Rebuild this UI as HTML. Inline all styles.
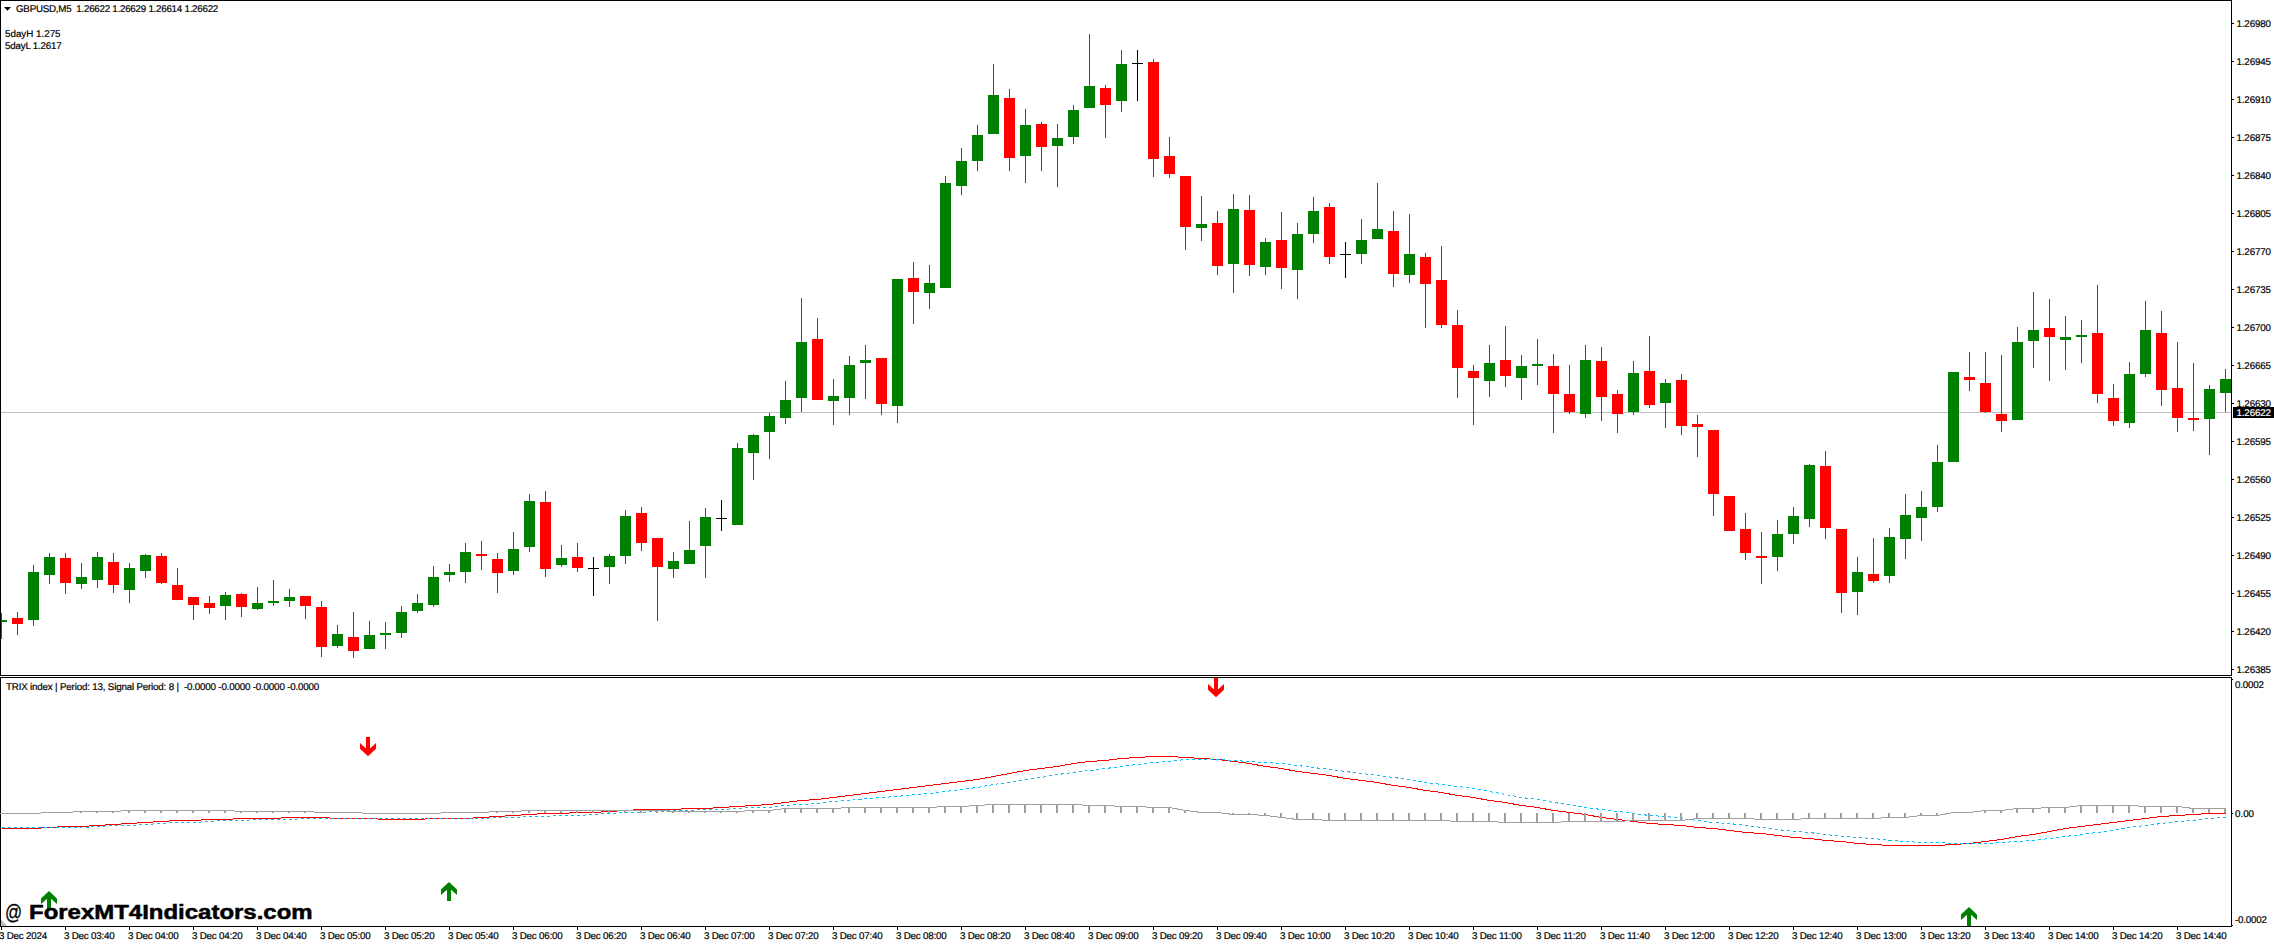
<!DOCTYPE html>
<html><head><meta charset="utf-8"><title>GBPUSD,M5</title>
<style>
html,body{margin:0;padding:0;background:#fff;}
body{width:2274px;height:944px;overflow:hidden;position:relative;font-family:"Liberation Sans",sans-serif;color:#000;}
svg{position:absolute;left:0;top:0;}
.t{position:absolute;white-space:pre;font-size:9.8px;line-height:11px;height:11px;text-rendering:geometricPrecision;-webkit-text-stroke-width:0.2px;}
.pl{left:2236px;}
.tl{top:930px;}
.wm{position:absolute;top:899.5px;font-size:20px;line-height:24px;white-space:pre;font-weight:bold;transform-origin:0 0;}
.wb{transform:scaleX(1.198);-webkit-text-stroke:0.5px #000;}
</style></head><body>

<svg width="2274" height="944" viewBox="0 0 2274 944" shape-rendering="crispEdges">
<g id="bidline">
<rect x="1" y="412" width="2230" height="1" fill="#c0c0c0"/>
</g>
<g id="candles">
<rect x="1" y="613" width="1" height="26" fill="#008000"/>
<rect x="1" y="620" width="6" height="2" fill="#008000"/>
<rect x="17" y="612" width="1" height="23" fill="#ff0000"/>
<rect x="12" y="618" width="11" height="6" fill="#ff0000"/>
<rect x="33" y="565" width="1" height="61" fill="#008000"/>
<rect x="28" y="572" width="11" height="48" fill="#008000"/>
<rect x="49" y="553" width="1" height="31" fill="#008000"/>
<rect x="44" y="557" width="11" height="18" fill="#008000"/>
<rect x="65" y="553" width="1" height="41" fill="#ff0000"/>
<rect x="60" y="558" width="11" height="25" fill="#ff0000"/>
<rect x="81" y="563" width="1" height="26" fill="#008000"/>
<rect x="76" y="577" width="11" height="7" fill="#008000"/>
<rect x="97" y="552" width="1" height="36" fill="#008000"/>
<rect x="92" y="557" width="11" height="23" fill="#008000"/>
<rect x="113" y="553" width="1" height="40" fill="#ff0000"/>
<rect x="108" y="562" width="11" height="23" fill="#ff0000"/>
<rect x="129" y="563" width="1" height="40" fill="#008000"/>
<rect x="124" y="568" width="11" height="22" fill="#008000"/>
<rect x="145" y="554" width="1" height="24" fill="#008000"/>
<rect x="140" y="555" width="11" height="16" fill="#008000"/>
<rect x="161" y="553" width="1" height="31" fill="#ff0000"/>
<rect x="156" y="556" width="11" height="27" fill="#ff0000"/>
<rect x="177" y="568" width="1" height="32" fill="#ff0000"/>
<rect x="172" y="585" width="11" height="15" fill="#ff0000"/>
<rect x="193" y="597" width="1" height="23" fill="#ff0000"/>
<rect x="188" y="597" width="11" height="8" fill="#ff0000"/>
<rect x="209" y="596" width="1" height="18" fill="#ff0000"/>
<rect x="204" y="603" width="11" height="5" fill="#ff0000"/>
<rect x="225" y="592" width="1" height="28" fill="#008000"/>
<rect x="220" y="595" width="11" height="11" fill="#008000"/>
<rect x="241" y="593" width="1" height="24" fill="#ff0000"/>
<rect x="236" y="594" width="11" height="13" fill="#ff0000"/>
<rect x="257" y="587" width="1" height="23" fill="#008000"/>
<rect x="252" y="603" width="11" height="6" fill="#008000"/>
<rect x="273" y="580" width="1" height="26" fill="#008000"/>
<rect x="268" y="601" width="11" height="2" fill="#008000"/>
<rect x="289" y="589" width="1" height="18" fill="#008000"/>
<rect x="284" y="597" width="11" height="4" fill="#008000"/>
<rect x="305" y="596" width="1" height="23" fill="#ff0000"/>
<rect x="300" y="596" width="11" height="10" fill="#ff0000"/>
<rect x="321" y="601" width="1" height="56" fill="#ff0000"/>
<rect x="316" y="607" width="11" height="40" fill="#ff0000"/>
<rect x="337" y="625" width="1" height="23" fill="#008000"/>
<rect x="332" y="634" width="11" height="12" fill="#008000"/>
<rect x="353" y="612" width="1" height="46" fill="#ff0000"/>
<rect x="348" y="637" width="11" height="14" fill="#ff0000"/>
<rect x="369" y="621" width="1" height="28" fill="#008000"/>
<rect x="364" y="635" width="11" height="14" fill="#008000"/>
<rect x="385" y="622" width="1" height="27" fill="#008000"/>
<rect x="380" y="633" width="11" height="2" fill="#008000"/>
<rect x="401" y="606" width="1" height="32" fill="#008000"/>
<rect x="396" y="612" width="11" height="21" fill="#008000"/>
<rect x="417" y="594" width="1" height="19" fill="#008000"/>
<rect x="412" y="603" width="11" height="8" fill="#008000"/>
<rect x="433" y="566" width="1" height="41" fill="#008000"/>
<rect x="428" y="577" width="11" height="28" fill="#008000"/>
<rect x="449" y="564" width="1" height="18" fill="#008000"/>
<rect x="444" y="572" width="11" height="3" fill="#008000"/>
<rect x="465" y="543" width="1" height="40" fill="#008000"/>
<rect x="460" y="552" width="11" height="20" fill="#008000"/>
<rect x="481" y="541" width="1" height="29" fill="#ff0000"/>
<rect x="476" y="554" width="11" height="2" fill="#ff0000"/>
<rect x="497" y="553" width="1" height="40" fill="#ff0000"/>
<rect x="492" y="559" width="11" height="14" fill="#ff0000"/>
<rect x="513" y="532" width="1" height="43" fill="#008000"/>
<rect x="508" y="549" width="11" height="22" fill="#008000"/>
<rect x="529" y="494" width="1" height="58" fill="#008000"/>
<rect x="524" y="501" width="11" height="46" fill="#008000"/>
<rect x="545" y="491" width="1" height="86" fill="#ff0000"/>
<rect x="540" y="502" width="11" height="67" fill="#ff0000"/>
<rect x="561" y="545" width="1" height="22" fill="#008000"/>
<rect x="556" y="558" width="11" height="7" fill="#008000"/>
<rect x="577" y="543" width="1" height="29" fill="#ff0000"/>
<rect x="572" y="557" width="11" height="11" fill="#ff0000"/>
<rect x="593" y="557" width="1" height="39" fill="#000000"/>
<rect x="588" y="568" width="11" height="1" fill="#000000"/>
<rect x="609" y="554" width="1" height="30" fill="#008000"/>
<rect x="604" y="556" width="11" height="11" fill="#008000"/>
<rect x="625" y="510" width="1" height="54" fill="#008000"/>
<rect x="620" y="516" width="11" height="40" fill="#008000"/>
<rect x="641" y="507" width="1" height="44" fill="#ff0000"/>
<rect x="636" y="513" width="11" height="30" fill="#ff0000"/>
<rect x="657" y="538" width="1" height="83" fill="#ff0000"/>
<rect x="652" y="538" width="11" height="29" fill="#ff0000"/>
<rect x="673" y="552" width="1" height="26" fill="#008000"/>
<rect x="668" y="561" width="11" height="8" fill="#008000"/>
<rect x="689" y="521" width="1" height="43" fill="#008000"/>
<rect x="684" y="550" width="11" height="14" fill="#008000"/>
<rect x="705" y="508" width="1" height="70" fill="#008000"/>
<rect x="700" y="517" width="11" height="29" fill="#008000"/>
<rect x="721" y="500" width="1" height="31" fill="#000000"/>
<rect x="716" y="518" width="11" height="1" fill="#000000"/>
<rect x="737" y="443" width="1" height="82" fill="#008000"/>
<rect x="732" y="448" width="11" height="77" fill="#008000"/>
<rect x="753" y="434" width="1" height="46" fill="#008000"/>
<rect x="748" y="435" width="11" height="18" fill="#008000"/>
<rect x="769" y="413" width="1" height="46" fill="#008000"/>
<rect x="764" y="416" width="11" height="16" fill="#008000"/>
<rect x="785" y="381" width="1" height="43" fill="#008000"/>
<rect x="780" y="400" width="11" height="18" fill="#008000"/>
<rect x="801" y="298" width="1" height="114" fill="#008000"/>
<rect x="796" y="342" width="11" height="56" fill="#008000"/>
<rect x="817" y="318" width="1" height="82" fill="#ff0000"/>
<rect x="812" y="339" width="11" height="61" fill="#ff0000"/>
<rect x="833" y="379" width="1" height="46" fill="#008000"/>
<rect x="828" y="396" width="11" height="5" fill="#008000"/>
<rect x="849" y="356" width="1" height="59" fill="#008000"/>
<rect x="844" y="365" width="11" height="33" fill="#008000"/>
<rect x="865" y="345" width="1" height="54" fill="#008000"/>
<rect x="860" y="360" width="11" height="3" fill="#008000"/>
<rect x="881" y="358" width="1" height="57" fill="#ff0000"/>
<rect x="876" y="358" width="11" height="46" fill="#ff0000"/>
<rect x="897" y="279" width="1" height="144" fill="#008000"/>
<rect x="892" y="279" width="11" height="127" fill="#008000"/>
<rect x="913" y="262" width="1" height="62" fill="#ff0000"/>
<rect x="908" y="278" width="11" height="14" fill="#ff0000"/>
<rect x="929" y="265" width="1" height="44" fill="#008000"/>
<rect x="924" y="283" width="11" height="10" fill="#008000"/>
<rect x="945" y="176" width="1" height="112" fill="#008000"/>
<rect x="940" y="183" width="11" height="105" fill="#008000"/>
<rect x="961" y="148" width="1" height="47" fill="#008000"/>
<rect x="956" y="161" width="11" height="25" fill="#008000"/>
<rect x="977" y="125" width="1" height="46" fill="#008000"/>
<rect x="972" y="135" width="11" height="26" fill="#008000"/>
<rect x="993" y="64" width="1" height="70" fill="#008000"/>
<rect x="988" y="95" width="11" height="39" fill="#008000"/>
<rect x="1009" y="89" width="1" height="82" fill="#ff0000"/>
<rect x="1004" y="98" width="11" height="60" fill="#ff0000"/>
<rect x="1025" y="109" width="1" height="74" fill="#008000"/>
<rect x="1020" y="125" width="11" height="31" fill="#008000"/>
<rect x="1041" y="122" width="1" height="49" fill="#ff0000"/>
<rect x="1036" y="124" width="11" height="23" fill="#ff0000"/>
<rect x="1057" y="124" width="1" height="63" fill="#008000"/>
<rect x="1052" y="138" width="11" height="8" fill="#008000"/>
<rect x="1073" y="105" width="1" height="39" fill="#008000"/>
<rect x="1068" y="110" width="11" height="27" fill="#008000"/>
<rect x="1089" y="34" width="1" height="74" fill="#008000"/>
<rect x="1084" y="86" width="11" height="22" fill="#008000"/>
<rect x="1105" y="85" width="1" height="53" fill="#ff0000"/>
<rect x="1100" y="88" width="11" height="17" fill="#ff0000"/>
<rect x="1121" y="50" width="1" height="62" fill="#008000"/>
<rect x="1116" y="64" width="11" height="37" fill="#008000"/>
<rect x="1137" y="50" width="1" height="51" fill="#000000"/>
<rect x="1132" y="63" width="11" height="1" fill="#000000"/>
<rect x="1153" y="59" width="1" height="118" fill="#ff0000"/>
<rect x="1148" y="62" width="11" height="97" fill="#ff0000"/>
<rect x="1169" y="137" width="1" height="41" fill="#ff0000"/>
<rect x="1164" y="156" width="11" height="18" fill="#ff0000"/>
<rect x="1185" y="176" width="1" height="74" fill="#ff0000"/>
<rect x="1180" y="176" width="11" height="51" fill="#ff0000"/>
<rect x="1201" y="196" width="1" height="45" fill="#008000"/>
<rect x="1196" y="224" width="11" height="4" fill="#008000"/>
<rect x="1217" y="211" width="1" height="64" fill="#ff0000"/>
<rect x="1212" y="223" width="11" height="43" fill="#ff0000"/>
<rect x="1233" y="194" width="1" height="99" fill="#008000"/>
<rect x="1228" y="209" width="11" height="55" fill="#008000"/>
<rect x="1249" y="195" width="1" height="81" fill="#ff0000"/>
<rect x="1244" y="210" width="11" height="55" fill="#ff0000"/>
<rect x="1265" y="238" width="1" height="37" fill="#008000"/>
<rect x="1260" y="242" width="11" height="25" fill="#008000"/>
<rect x="1281" y="212" width="1" height="77" fill="#ff0000"/>
<rect x="1276" y="240" width="11" height="28" fill="#ff0000"/>
<rect x="1297" y="223" width="1" height="76" fill="#008000"/>
<rect x="1292" y="234" width="11" height="36" fill="#008000"/>
<rect x="1313" y="197" width="1" height="46" fill="#008000"/>
<rect x="1308" y="211" width="11" height="23" fill="#008000"/>
<rect x="1329" y="203" width="1" height="61" fill="#ff0000"/>
<rect x="1324" y="207" width="11" height="50" fill="#ff0000"/>
<rect x="1345" y="242" width="1" height="36" fill="#000000"/>
<rect x="1340" y="254" width="11" height="1" fill="#000000"/>
<rect x="1361" y="219" width="1" height="45" fill="#008000"/>
<rect x="1356" y="240" width="11" height="14" fill="#008000"/>
<rect x="1377" y="183" width="1" height="56" fill="#008000"/>
<rect x="1372" y="229" width="11" height="10" fill="#008000"/>
<rect x="1393" y="211" width="1" height="76" fill="#ff0000"/>
<rect x="1388" y="231" width="11" height="43" fill="#ff0000"/>
<rect x="1409" y="214" width="1" height="69" fill="#008000"/>
<rect x="1404" y="254" width="11" height="21" fill="#008000"/>
<rect x="1425" y="253" width="1" height="75" fill="#ff0000"/>
<rect x="1420" y="257" width="11" height="27" fill="#ff0000"/>
<rect x="1441" y="246" width="1" height="82" fill="#ff0000"/>
<rect x="1436" y="280" width="11" height="45" fill="#ff0000"/>
<rect x="1457" y="310" width="1" height="88" fill="#ff0000"/>
<rect x="1452" y="325" width="11" height="43" fill="#ff0000"/>
<rect x="1473" y="365" width="1" height="60" fill="#ff0000"/>
<rect x="1468" y="371" width="11" height="7" fill="#ff0000"/>
<rect x="1489" y="345" width="1" height="52" fill="#008000"/>
<rect x="1484" y="363" width="11" height="18" fill="#008000"/>
<rect x="1505" y="326" width="1" height="61" fill="#ff0000"/>
<rect x="1500" y="360" width="11" height="16" fill="#ff0000"/>
<rect x="1521" y="355" width="1" height="45" fill="#008000"/>
<rect x="1516" y="366" width="11" height="12" fill="#008000"/>
<rect x="1537" y="339" width="1" height="46" fill="#008000"/>
<rect x="1532" y="364" width="11" height="2" fill="#008000"/>
<rect x="1553" y="354" width="1" height="79" fill="#ff0000"/>
<rect x="1548" y="366" width="11" height="28" fill="#ff0000"/>
<rect x="1569" y="365" width="1" height="49" fill="#ff0000"/>
<rect x="1564" y="394" width="11" height="18" fill="#ff0000"/>
<rect x="1585" y="345" width="1" height="73" fill="#008000"/>
<rect x="1580" y="360" width="11" height="54" fill="#008000"/>
<rect x="1601" y="347" width="1" height="74" fill="#ff0000"/>
<rect x="1596" y="361" width="11" height="36" fill="#ff0000"/>
<rect x="1617" y="390" width="1" height="43" fill="#ff0000"/>
<rect x="1612" y="394" width="11" height="20" fill="#ff0000"/>
<rect x="1633" y="361" width="1" height="54" fill="#008000"/>
<rect x="1628" y="373" width="11" height="39" fill="#008000"/>
<rect x="1649" y="336" width="1" height="72" fill="#ff0000"/>
<rect x="1644" y="371" width="11" height="34" fill="#ff0000"/>
<rect x="1665" y="379" width="1" height="49" fill="#008000"/>
<rect x="1660" y="383" width="11" height="20" fill="#008000"/>
<rect x="1681" y="374" width="1" height="61" fill="#ff0000"/>
<rect x="1676" y="380" width="11" height="46" fill="#ff0000"/>
<rect x="1697" y="415" width="1" height="42" fill="#ff0000"/>
<rect x="1692" y="424" width="11" height="3" fill="#ff0000"/>
<rect x="1713" y="430" width="1" height="86" fill="#ff0000"/>
<rect x="1708" y="430" width="11" height="64" fill="#ff0000"/>
<rect x="1729" y="496" width="1" height="35" fill="#ff0000"/>
<rect x="1724" y="496" width="11" height="35" fill="#ff0000"/>
<rect x="1745" y="513" width="1" height="47" fill="#ff0000"/>
<rect x="1740" y="529" width="11" height="24" fill="#ff0000"/>
<rect x="1761" y="532" width="1" height="52" fill="#ff0000"/>
<rect x="1756" y="556" width="11" height="2" fill="#ff0000"/>
<rect x="1777" y="520" width="1" height="51" fill="#008000"/>
<rect x="1772" y="534" width="11" height="23" fill="#008000"/>
<rect x="1793" y="507" width="1" height="37" fill="#008000"/>
<rect x="1788" y="516" width="11" height="18" fill="#008000"/>
<rect x="1809" y="464" width="1" height="63" fill="#008000"/>
<rect x="1804" y="465" width="11" height="54" fill="#008000"/>
<rect x="1825" y="451" width="1" height="88" fill="#ff0000"/>
<rect x="1820" y="466" width="11" height="62" fill="#ff0000"/>
<rect x="1841" y="529" width="1" height="84" fill="#ff0000"/>
<rect x="1836" y="529" width="11" height="64" fill="#ff0000"/>
<rect x="1857" y="557" width="1" height="58" fill="#008000"/>
<rect x="1852" y="572" width="11" height="20" fill="#008000"/>
<rect x="1873" y="538" width="1" height="45" fill="#ff0000"/>
<rect x="1868" y="574" width="11" height="7" fill="#ff0000"/>
<rect x="1889" y="528" width="1" height="55" fill="#008000"/>
<rect x="1884" y="537" width="11" height="39" fill="#008000"/>
<rect x="1905" y="494" width="1" height="65" fill="#008000"/>
<rect x="1900" y="515" width="11" height="24" fill="#008000"/>
<rect x="1921" y="491" width="1" height="50" fill="#008000"/>
<rect x="1916" y="507" width="11" height="11" fill="#008000"/>
<rect x="1937" y="445" width="1" height="67" fill="#008000"/>
<rect x="1932" y="462" width="11" height="45" fill="#008000"/>
<rect x="1953" y="372" width="1" height="90" fill="#008000"/>
<rect x="1948" y="372" width="11" height="90" fill="#008000"/>
<rect x="1969" y="352" width="1" height="39" fill="#ff0000"/>
<rect x="1964" y="377" width="11" height="3" fill="#ff0000"/>
<rect x="1985" y="352" width="1" height="61" fill="#ff0000"/>
<rect x="1980" y="383" width="11" height="29" fill="#ff0000"/>
<rect x="2001" y="355" width="1" height="77" fill="#ff0000"/>
<rect x="1996" y="414" width="11" height="7" fill="#ff0000"/>
<rect x="2017" y="327" width="1" height="93" fill="#008000"/>
<rect x="2012" y="342" width="11" height="78" fill="#008000"/>
<rect x="2033" y="292" width="1" height="76" fill="#008000"/>
<rect x="2028" y="330" width="11" height="11" fill="#008000"/>
<rect x="2049" y="299" width="1" height="82" fill="#ff0000"/>
<rect x="2044" y="328" width="11" height="9" fill="#ff0000"/>
<rect x="2065" y="316" width="1" height="54" fill="#008000"/>
<rect x="2060" y="337" width="11" height="3" fill="#008000"/>
<rect x="2081" y="320" width="1" height="43" fill="#008000"/>
<rect x="2076" y="335" width="11" height="2" fill="#008000"/>
<rect x="2097" y="285" width="1" height="118" fill="#ff0000"/>
<rect x="2092" y="333" width="11" height="61" fill="#ff0000"/>
<rect x="2113" y="384" width="1" height="42" fill="#ff0000"/>
<rect x="2108" y="398" width="11" height="23" fill="#ff0000"/>
<rect x="2129" y="362" width="1" height="66" fill="#008000"/>
<rect x="2124" y="374" width="11" height="49" fill="#008000"/>
<rect x="2145" y="301" width="1" height="76" fill="#008000"/>
<rect x="2140" y="330" width="11" height="44" fill="#008000"/>
<rect x="2161" y="311" width="1" height="95" fill="#ff0000"/>
<rect x="2156" y="333" width="11" height="57" fill="#ff0000"/>
<rect x="2177" y="342" width="1" height="90" fill="#ff0000"/>
<rect x="2172" y="388" width="11" height="30" fill="#ff0000"/>
<rect x="2193" y="363" width="1" height="68" fill="#ff0000"/>
<rect x="2188" y="418" width="11" height="2" fill="#ff0000"/>
<rect x="2209" y="385" width="1" height="70" fill="#008000"/>
<rect x="2204" y="389" width="11" height="30" fill="#008000"/>
<rect x="2225" y="369" width="1" height="43" fill="#008000"/>
<rect x="2220" y="379" width="11" height="14" fill="#008000"/>
</g>
<g id="frame" fill="#000">
<rect x="0" y="0" width="2232" height="1" fill="#000"/>
<rect x="0" y="0" width="1" height="927" fill="#000"/>
<rect x="2231" y="0" width="1" height="676" fill="#000"/>
<rect x="0" y="675" width="2232" height="1" fill="#000"/>
<rect x="0" y="677" width="2232" height="1" fill="#000"/>
<rect x="2231" y="677" width="1" height="250" fill="#000"/>
<rect x="0" y="926" width="2232" height="1" fill="#000"/>
<rect x="0" y="676" width="1" height="1" fill="#fff"/>
</g>
<g id="pticks">
<rect x="2232" y="23" width="2" height="1" fill="#000"/>
<rect x="2232" y="61" width="2" height="1" fill="#000"/>
<rect x="2232" y="99" width="2" height="1" fill="#000"/>
<rect x="2232" y="137" width="2" height="1" fill="#000"/>
<rect x="2232" y="175" width="2" height="1" fill="#000"/>
<rect x="2232" y="213" width="2" height="1" fill="#000"/>
<rect x="2232" y="251" width="2" height="1" fill="#000"/>
<rect x="2232" y="289" width="2" height="1" fill="#000"/>
<rect x="2232" y="327" width="2" height="1" fill="#000"/>
<rect x="2232" y="365" width="2" height="1" fill="#000"/>
<rect x="2232" y="403" width="2" height="1" fill="#000"/>
<rect x="2232" y="441" width="2" height="1" fill="#000"/>
<rect x="2232" y="479" width="2" height="1" fill="#000"/>
<rect x="2232" y="517" width="2" height="1" fill="#000"/>
<rect x="2232" y="555" width="2" height="1" fill="#000"/>
<rect x="2232" y="593" width="2" height="1" fill="#000"/>
<rect x="2232" y="631" width="2" height="1" fill="#000"/>
<rect x="2232" y="669" width="2" height="1" fill="#000"/>
<rect x="2232" y="679" width="1" height="1" fill="#000"/>
<rect x="2232" y="813" width="1" height="1" fill="#000"/>
<rect x="2232" y="925" width="1" height="1" fill="#000"/>
</g>
<g id="tticks">
<rect x="1" y="927" width="1" height="3" fill="#000"/>
<rect x="65" y="927" width="1" height="3" fill="#000"/>
<rect x="129" y="927" width="1" height="3" fill="#000"/>
<rect x="193" y="927" width="1" height="3" fill="#000"/>
<rect x="257" y="927" width="1" height="3" fill="#000"/>
<rect x="321" y="927" width="1" height="3" fill="#000"/>
<rect x="385" y="927" width="1" height="3" fill="#000"/>
<rect x="449" y="927" width="1" height="3" fill="#000"/>
<rect x="513" y="927" width="1" height="3" fill="#000"/>
<rect x="577" y="927" width="1" height="3" fill="#000"/>
<rect x="641" y="927" width="1" height="3" fill="#000"/>
<rect x="705" y="927" width="1" height="3" fill="#000"/>
<rect x="769" y="927" width="1" height="3" fill="#000"/>
<rect x="833" y="927" width="1" height="3" fill="#000"/>
<rect x="897" y="927" width="1" height="3" fill="#000"/>
<rect x="961" y="927" width="1" height="3" fill="#000"/>
<rect x="1025" y="927" width="1" height="3" fill="#000"/>
<rect x="1089" y="927" width="1" height="3" fill="#000"/>
<rect x="1153" y="927" width="1" height="3" fill="#000"/>
<rect x="1217" y="927" width="1" height="3" fill="#000"/>
<rect x="1281" y="927" width="1" height="3" fill="#000"/>
<rect x="1345" y="927" width="1" height="3" fill="#000"/>
<rect x="1409" y="927" width="1" height="3" fill="#000"/>
<rect x="1473" y="927" width="1" height="3" fill="#000"/>
<rect x="1537" y="927" width="1" height="3" fill="#000"/>
<rect x="1601" y="927" width="1" height="3" fill="#000"/>
<rect x="1665" y="927" width="1" height="3" fill="#000"/>
<rect x="1729" y="927" width="1" height="3" fill="#000"/>
<rect x="1793" y="927" width="1" height="3" fill="#000"/>
<rect x="1857" y="927" width="1" height="3" fill="#000"/>
<rect x="1921" y="927" width="1" height="3" fill="#000"/>
<rect x="1985" y="927" width="1" height="3" fill="#000"/>
<rect x="2049" y="927" width="1" height="3" fill="#000"/>
<rect x="2113" y="927" width="1" height="3" fill="#000"/>
<rect x="2177" y="927" width="1" height="3" fill="#000"/>
</g>
<polygon points="1,920 7,926 1,926" fill="#c0c0c0"/>
<g id="ind">
<polyline points="1.5,828.5 17.5,828.5 33.5,828.5 49.5,827.5 65.5,826.5 81.5,826.5 97.5,825.5 113.5,824.5 129.5,823.5 145.5,822.5 161.5,821.5 177.5,820.5 193.5,820.5 209.5,819.5 225.5,819.5 241.5,818.5 257.5,818.5 273.5,818.5 289.5,817.5 305.5,817.5 321.5,817.5 337.5,818.5 353.5,818.5 369.5,818.5 385.5,819.5 401.5,819.5 417.5,819.5 433.5,818.5 449.5,818.5 465.5,818.5 481.5,817.5 497.5,816.5 513.5,815.5 529.5,814.5 545.5,813.5 561.5,813.5 577.5,812.5 593.5,812.5 609.5,811.5 625.5,810.5 641.5,809.5 657.5,809.5 673.5,809.5 689.5,808.5 705.5,808.5 721.5,807.5 737.5,806.5 753.5,805.5 769.5,804.5 785.5,802.5 801.5,800.5 817.5,799.5 833.5,797.5 849.5,795.5 865.5,793.5 881.5,791.5 897.5,789.5 913.5,787.5 929.5,785.5 945.5,783.5 961.5,781.5 977.5,779.5 993.5,776.5 1009.5,773.5 1025.5,770.5 1041.5,768.5 1057.5,766.5 1073.5,763.5 1089.5,761.5 1105.5,760.5 1121.5,758.5 1137.5,757.5 1153.5,756.5 1169.5,756.5 1185.5,757.5 1201.5,758.5 1217.5,759.5 1233.5,761.5 1249.5,763.5 1265.5,766.5 1281.5,768.5 1297.5,771.5 1313.5,773.5 1329.5,775.5 1345.5,778.5 1361.5,780.5 1377.5,782.5 1393.5,785.5 1409.5,787.5 1425.5,790.5 1441.5,792.5 1457.5,795.5 1473.5,797.5 1489.5,800.5 1505.5,802.5 1521.5,805.5 1537.5,807.5 1553.5,810.5 1569.5,812.5 1585.5,814.5 1601.5,817.5 1617.5,819.5 1633.5,821.5 1649.5,823.5 1665.5,824.5 1681.5,825.5 1697.5,827.5 1713.5,828.5 1729.5,830.5 1745.5,832.5 1761.5,833.5 1777.5,835.5 1793.5,837.5 1809.5,838.5 1825.5,840.5 1841.5,841.5 1857.5,843.5 1873.5,844.5 1889.5,845.5 1905.5,845.5 1921.5,845.5 1937.5,845.5 1953.5,844.5 1969.5,843.5 1985.5,841.5 2001.5,839.5 2017.5,836.5 2033.5,834.5 2049.5,831.5 2065.5,828.5 2081.5,826.5 2097.5,824.5 2113.5,822.5 2129.5,820.5 2145.5,818.5 2161.5,816.5 2177.5,815.5 2193.5,814.5 2209.5,813.5 2225.5,813.5" fill="none" stroke="#ff0000" stroke-width="1" />
<polyline points="1.5,827.5 17.5,827.5 33.5,827.5 49.5,827.5 65.5,827.5 81.5,827.5 97.5,826.5 113.5,825.5 129.5,825.5 145.5,824.5 161.5,823.5 177.5,822.5 193.5,822.5 209.5,821.5 225.5,820.5 241.5,820.5 257.5,819.5 273.5,819.5 289.5,819.5 305.5,818.5 321.5,818.5 337.5,818.5 353.5,818.5 369.5,818.5 385.5,818.5 401.5,818.5 417.5,818.5 433.5,818.5 449.5,818.5 465.5,818.5 481.5,818.5 497.5,817.5 513.5,817.5 529.5,816.5 545.5,816.5 561.5,815.5 577.5,815.5 593.5,814.5 609.5,813.5 625.5,812.5 641.5,812.5 657.5,811.5 673.5,810.5 689.5,810.5 705.5,809.5 721.5,809.5 737.5,808.5 753.5,807.5 769.5,807.5 785.5,805.5 801.5,804.5 817.5,803.5 833.5,801.5 849.5,800.5 865.5,798.5 881.5,797.5 897.5,796.5 913.5,794.5 929.5,793.5 945.5,791.5 961.5,789.5 977.5,787.5 993.5,784.5 1009.5,782.5 1025.5,779.5 1041.5,777.5 1057.5,774.5 1073.5,772.5 1089.5,770.5 1105.5,768.5 1121.5,766.5 1137.5,764.5 1153.5,762.5 1169.5,761.5 1185.5,759.5 1201.5,759.5 1217.5,759.5 1233.5,760.5 1249.5,761.5 1265.5,762.5 1281.5,763.5 1297.5,765.5 1313.5,767.5 1329.5,769.5 1345.5,771.5 1361.5,773.5 1377.5,775.5 1393.5,777.5 1409.5,779.5 1425.5,782.5 1441.5,784.5 1457.5,786.5 1473.5,788.5 1489.5,791.5 1505.5,794.5 1521.5,797.5 1537.5,799.5 1553.5,802.5 1569.5,804.5 1585.5,807.5 1601.5,809.5 1617.5,811.5 1633.5,813.5 1649.5,815.5 1665.5,816.5 1681.5,818.5 1697.5,820.5 1713.5,822.5 1729.5,823.5 1745.5,825.5 1761.5,827.5 1777.5,829.5 1793.5,831.5 1809.5,832.5 1825.5,834.5 1841.5,836.5 1857.5,837.5 1873.5,838.5 1889.5,840.5 1905.5,841.5 1921.5,842.5 1937.5,842.5 1953.5,843.5 1969.5,843.5 1985.5,843.5 2001.5,842.5 2017.5,841.5 2033.5,840.5 2049.5,838.5 2065.5,836.5 2081.5,834.5 2097.5,832.5 2113.5,830.5 2129.5,827.5 2145.5,825.5 2161.5,823.5 2177.5,821.5 2193.5,820.5 2209.5,818.5 2225.5,817.5" fill="none" stroke="#00bfff" stroke-width="1" stroke-dasharray="3 3"/>
<rect x="0" y="813" width="2" height="1" fill="#a0a0a0"/>
<rect x="16" y="813" width="2" height="1" fill="#a0a0a0"/>
<rect x="32" y="813" width="2" height="1" fill="#a0a0a0"/>
<rect x="48" y="812" width="2" height="1" fill="#a0a0a0"/>
<rect x="64" y="812" width="2" height="1" fill="#a0a0a0"/>
<rect x="80" y="811" width="2" height="2" fill="#a0a0a0"/>
<rect x="96" y="811" width="2" height="2" fill="#a0a0a0"/>
<rect x="112" y="811" width="2" height="2" fill="#a0a0a0"/>
<rect x="128" y="810" width="2" height="3" fill="#a0a0a0"/>
<rect x="144" y="810" width="2" height="3" fill="#a0a0a0"/>
<rect x="160" y="810" width="2" height="3" fill="#a0a0a0"/>
<rect x="176" y="810" width="2" height="3" fill="#a0a0a0"/>
<rect x="192" y="810" width="2" height="3" fill="#a0a0a0"/>
<rect x="208" y="810" width="2" height="3" fill="#a0a0a0"/>
<rect x="224" y="810" width="2" height="3" fill="#a0a0a0"/>
<rect x="240" y="811" width="2" height="2" fill="#a0a0a0"/>
<rect x="256" y="811" width="2" height="2" fill="#a0a0a0"/>
<rect x="272" y="811" width="2" height="2" fill="#a0a0a0"/>
<rect x="288" y="811" width="2" height="2" fill="#a0a0a0"/>
<rect x="304" y="811" width="2" height="2" fill="#a0a0a0"/>
<rect x="320" y="812" width="2" height="1" fill="#a0a0a0"/>
<rect x="336" y="812" width="2" height="1" fill="#a0a0a0"/>
<rect x="352" y="812" width="2" height="1" fill="#a0a0a0"/>
<rect x="368" y="813" width="2" height="1" fill="#a0a0a0"/>
<rect x="384" y="813" width="2" height="1" fill="#a0a0a0"/>
<rect x="400" y="813" width="2" height="1" fill="#a0a0a0"/>
<rect x="416" y="813" width="2" height="1" fill="#a0a0a0"/>
<rect x="432" y="813" width="2" height="1" fill="#a0a0a0"/>
<rect x="448" y="812" width="2" height="1" fill="#a0a0a0"/>
<rect x="464" y="812" width="2" height="1" fill="#a0a0a0"/>
<rect x="480" y="812" width="2" height="1" fill="#a0a0a0"/>
<rect x="496" y="811" width="2" height="2" fill="#a0a0a0"/>
<rect x="512" y="811" width="2" height="2" fill="#a0a0a0"/>
<rect x="528" y="810" width="2" height="3" fill="#a0a0a0"/>
<rect x="544" y="810" width="2" height="3" fill="#a0a0a0"/>
<rect x="560" y="810" width="2" height="3" fill="#a0a0a0"/>
<rect x="576" y="810" width="2" height="3" fill="#a0a0a0"/>
<rect x="592" y="810" width="2" height="3" fill="#a0a0a0"/>
<rect x="608" y="810" width="2" height="3" fill="#a0a0a0"/>
<rect x="624" y="810" width="2" height="3" fill="#a0a0a0"/>
<rect x="640" y="810" width="2" height="3" fill="#a0a0a0"/>
<rect x="656" y="810" width="2" height="3" fill="#a0a0a0"/>
<rect x="672" y="811" width="2" height="2" fill="#a0a0a0"/>
<rect x="688" y="811" width="2" height="2" fill="#a0a0a0"/>
<rect x="704" y="811" width="2" height="2" fill="#a0a0a0"/>
<rect x="720" y="811" width="2" height="2" fill="#a0a0a0"/>
<rect x="736" y="811" width="2" height="2" fill="#a0a0a0"/>
<rect x="752" y="810" width="2" height="3" fill="#a0a0a0"/>
<rect x="768" y="810" width="2" height="3" fill="#a0a0a0"/>
<rect x="784" y="808" width="2" height="5" fill="#a0a0a0"/>
<rect x="800" y="808" width="2" height="5" fill="#a0a0a0"/>
<rect x="816" y="808" width="2" height="5" fill="#a0a0a0"/>
<rect x="832" y="808" width="2" height="5" fill="#a0a0a0"/>
<rect x="848" y="807" width="2" height="6" fill="#a0a0a0"/>
<rect x="864" y="807" width="2" height="6" fill="#a0a0a0"/>
<rect x="880" y="807" width="2" height="6" fill="#a0a0a0"/>
<rect x="896" y="807" width="2" height="6" fill="#a0a0a0"/>
<rect x="912" y="807" width="2" height="6" fill="#a0a0a0"/>
<rect x="928" y="807" width="2" height="6" fill="#a0a0a0"/>
<rect x="944" y="806" width="2" height="7" fill="#a0a0a0"/>
<rect x="960" y="806" width="2" height="7" fill="#a0a0a0"/>
<rect x="976" y="805" width="2" height="8" fill="#a0a0a0"/>
<rect x="992" y="804" width="2" height="9" fill="#a0a0a0"/>
<rect x="1008" y="804" width="2" height="9" fill="#a0a0a0"/>
<rect x="1024" y="804" width="2" height="9" fill="#a0a0a0"/>
<rect x="1040" y="804" width="2" height="9" fill="#a0a0a0"/>
<rect x="1056" y="804" width="2" height="9" fill="#a0a0a0"/>
<rect x="1072" y="804" width="2" height="9" fill="#a0a0a0"/>
<rect x="1088" y="805" width="2" height="8" fill="#a0a0a0"/>
<rect x="1104" y="805" width="2" height="8" fill="#a0a0a0"/>
<rect x="1120" y="806" width="2" height="7" fill="#a0a0a0"/>
<rect x="1136" y="806" width="2" height="7" fill="#a0a0a0"/>
<rect x="1152" y="807" width="2" height="6" fill="#a0a0a0"/>
<rect x="1168" y="807" width="2" height="6" fill="#a0a0a0"/>
<rect x="1184" y="810" width="2" height="3" fill="#a0a0a0"/>
<rect x="1200" y="812" width="2" height="1" fill="#a0a0a0"/>
<rect x="1216" y="812" width="2" height="1" fill="#a0a0a0"/>
<rect x="1232" y="813" width="2" height="2" fill="#a0a0a0"/>
<rect x="1248" y="813" width="2" height="2" fill="#a0a0a0"/>
<rect x="1264" y="813" width="2" height="3" fill="#a0a0a0"/>
<rect x="1280" y="813" width="2" height="5" fill="#a0a0a0"/>
<rect x="1296" y="813" width="2" height="7" fill="#a0a0a0"/>
<rect x="1312" y="813" width="2" height="7" fill="#a0a0a0"/>
<rect x="1328" y="813" width="2" height="8" fill="#a0a0a0"/>
<rect x="1344" y="813" width="2" height="8" fill="#a0a0a0"/>
<rect x="1360" y="813" width="2" height="8" fill="#a0a0a0"/>
<rect x="1376" y="813" width="2" height="8" fill="#a0a0a0"/>
<rect x="1392" y="813" width="2" height="8" fill="#a0a0a0"/>
<rect x="1408" y="813" width="2" height="8" fill="#a0a0a0"/>
<rect x="1424" y="813" width="2" height="8" fill="#a0a0a0"/>
<rect x="1440" y="813" width="2" height="8" fill="#a0a0a0"/>
<rect x="1456" y="813" width="2" height="9" fill="#a0a0a0"/>
<rect x="1472" y="813" width="2" height="9" fill="#a0a0a0"/>
<rect x="1488" y="813" width="2" height="9" fill="#a0a0a0"/>
<rect x="1504" y="813" width="2" height="10" fill="#a0a0a0"/>
<rect x="1520" y="813" width="2" height="10" fill="#a0a0a0"/>
<rect x="1536" y="813" width="2" height="10" fill="#a0a0a0"/>
<rect x="1552" y="813" width="2" height="10" fill="#a0a0a0"/>
<rect x="1568" y="813" width="2" height="9" fill="#a0a0a0"/>
<rect x="1584" y="813" width="2" height="9" fill="#a0a0a0"/>
<rect x="1600" y="813" width="2" height="9" fill="#a0a0a0"/>
<rect x="1616" y="813" width="2" height="9" fill="#a0a0a0"/>
<rect x="1632" y="813" width="2" height="8" fill="#a0a0a0"/>
<rect x="1648" y="813" width="2" height="8" fill="#a0a0a0"/>
<rect x="1664" y="813" width="2" height="8" fill="#a0a0a0"/>
<rect x="1680" y="813" width="2" height="8" fill="#a0a0a0"/>
<rect x="1696" y="813" width="2" height="6" fill="#a0a0a0"/>
<rect x="1712" y="813" width="2" height="6" fill="#a0a0a0"/>
<rect x="1728" y="813" width="2" height="6" fill="#a0a0a0"/>
<rect x="1744" y="813" width="2" height="6" fill="#a0a0a0"/>
<rect x="1760" y="813" width="2" height="7" fill="#a0a0a0"/>
<rect x="1776" y="813" width="2" height="7" fill="#a0a0a0"/>
<rect x="1792" y="813" width="2" height="7" fill="#a0a0a0"/>
<rect x="1808" y="813" width="2" height="6" fill="#a0a0a0"/>
<rect x="1824" y="813" width="2" height="6" fill="#a0a0a0"/>
<rect x="1840" y="813" width="2" height="6" fill="#a0a0a0"/>
<rect x="1856" y="813" width="2" height="6" fill="#a0a0a0"/>
<rect x="1872" y="813" width="2" height="6" fill="#a0a0a0"/>
<rect x="1888" y="813" width="2" height="5" fill="#a0a0a0"/>
<rect x="1904" y="813" width="2" height="5" fill="#a0a0a0"/>
<rect x="1920" y="813" width="2" height="3" fill="#a0a0a0"/>
<rect x="1936" y="813" width="2" height="3" fill="#a0a0a0"/>
<rect x="1952" y="812" width="2" height="1" fill="#a0a0a0"/>
<rect x="1968" y="812" width="2" height="1" fill="#a0a0a0"/>
<rect x="1984" y="810" width="2" height="3" fill="#a0a0a0"/>
<rect x="2000" y="810" width="2" height="3" fill="#a0a0a0"/>
<rect x="2016" y="808" width="2" height="5" fill="#a0a0a0"/>
<rect x="2032" y="808" width="2" height="5" fill="#a0a0a0"/>
<rect x="2048" y="807" width="2" height="6" fill="#a0a0a0"/>
<rect x="2064" y="807" width="2" height="6" fill="#a0a0a0"/>
<rect x="2080" y="805" width="2" height="8" fill="#a0a0a0"/>
<rect x="2096" y="805" width="2" height="8" fill="#a0a0a0"/>
<rect x="2112" y="805" width="2" height="8" fill="#a0a0a0"/>
<rect x="2128" y="805" width="2" height="8" fill="#a0a0a0"/>
<rect x="2144" y="806" width="2" height="7" fill="#a0a0a0"/>
<rect x="2160" y="806" width="2" height="7" fill="#a0a0a0"/>
<rect x="2176" y="806" width="2" height="7" fill="#a0a0a0"/>
<rect x="2192" y="808" width="2" height="5" fill="#a0a0a0"/>
<rect x="2208" y="808" width="2" height="5" fill="#a0a0a0"/>
<rect x="2224" y="808" width="2" height="5" fill="#a0a0a0"/>
<polyline points="1.5,813.5 17.5,813.5 33.5,813.5 49.5,812.5 65.5,812.5 81.5,811.5 97.5,811.5 113.5,811.5 129.5,810.5 145.5,810.5 161.5,810.5 177.5,810.5 193.5,810.5 209.5,810.5 225.5,810.5 241.5,811.5 257.5,811.5 273.5,811.5 289.5,811.5 305.5,811.5 321.5,812.5 337.5,812.5 353.5,812.5 369.5,813.5 385.5,813.5 401.5,813.5 417.5,813.5 433.5,813.5 449.5,812.5 465.5,812.5 481.5,812.5 497.5,811.5 513.5,811.5 529.5,810.5 545.5,810.5 561.5,810.5 577.5,810.5 593.5,810.5 609.5,810.5 625.5,810.5 641.5,810.5 657.5,810.5 673.5,811.5 689.5,811.5 705.5,811.5 721.5,811.5 737.5,811.5 753.5,810.5 769.5,810.5 785.5,808.5 801.5,808.5 817.5,808.5 833.5,808.5 849.5,807.5 865.5,807.5 881.5,807.5 897.5,807.5 913.5,807.5 929.5,807.5 945.5,806.5 961.5,806.5 977.5,805.5 993.5,804.5 1009.5,804.5 1025.5,804.5 1041.5,804.5 1057.5,804.5 1073.5,804.5 1089.5,805.5 1105.5,805.5 1121.5,806.5 1137.5,806.5 1153.5,807.5 1169.5,807.5 1185.5,810.5 1201.5,812.5 1217.5,812.5 1233.5,814.5 1249.5,814.5 1265.5,815.5 1281.5,817.5 1297.5,819.5 1313.5,819.5 1329.5,820.5 1345.5,820.5 1361.5,820.5 1377.5,820.5 1393.5,820.5 1409.5,820.5 1425.5,820.5 1441.5,820.5 1457.5,821.5 1473.5,821.5 1489.5,821.5 1505.5,822.5 1521.5,822.5 1537.5,822.5 1553.5,822.5 1569.5,821.5 1585.5,821.5 1601.5,821.5 1617.5,821.5 1633.5,820.5 1649.5,820.5 1665.5,820.5 1681.5,820.5 1697.5,818.5 1713.5,818.5 1729.5,818.5 1745.5,818.5 1761.5,819.5 1777.5,819.5 1793.5,819.5 1809.5,818.5 1825.5,818.5 1841.5,818.5 1857.5,818.5 1873.5,818.5 1889.5,817.5 1905.5,817.5 1921.5,815.5 1937.5,815.5 1953.5,812.5 1969.5,812.5 1985.5,810.5 2001.5,810.5 2017.5,808.5 2033.5,808.5 2049.5,807.5 2065.5,807.5 2081.5,805.5 2097.5,805.5 2113.5,805.5 2129.5,805.5 2145.5,806.5 2161.5,806.5 2177.5,806.5 2193.5,808.5 2209.5,808.5 2225.5,808.5" fill="none" stroke="#a0a0a0" stroke-width="1" />
</g>
<defs><clipPath id="subclip"><rect x="1" y="678" width="2230" height="248"/></clipPath></defs>
<g id="arrows" clip-path="url(#subclip)">
<polygon points="366,737 370,737 370,748.4 376,743 376,748.8 368,756.2 360,748.8 360,743 366,748.4" fill="#ff0000" shape-rendering="geometricPrecision"/>
<polygon points="1214,678 1218,678 1218,689.4 1224,684 1224,689.8 1216,697.2 1208,689.8 1208,684 1214,689.4" fill="#ff0000" shape-rendering="geometricPrecision"/>
<polygon points="49,891 57,898.4 57,904.1 51,898.7 51,910 47,910 47,898.7 41,904.1 41,898.4" fill="#008000" shape-rendering="geometricPrecision" />
<polygon points="449,882 457,889.4 457,895.1 451,889.7 451,901 447,901 447,889.7 441,895.1 441,889.4" fill="#008000" shape-rendering="geometricPrecision" />
<polygon points="1969,907 1977,914.4 1977,920.1 1971,914.7 1971,926 1967,926 1967,914.7 1961,920.1 1961,914.4" fill="#008000" shape-rendering="geometricPrecision" />
</g>
<polygon points="4,7 11,7 7.5,10.8" fill="#000" shape-rendering="geometricPrecision"/>
<rect x="2233" y="407" width="41" height="11" fill="#000"/>
</svg>
<div class="t" style="left:16px;top:4px;letter-spacing:-0.26px;">GBPUSD,M5  1.26622 1.26629 1.26614 1.26622</div>
<div class="t" style="left:5px;top:29px;">5dayH 1.275</div>
<div class="t" style="left:5px;top:41px;letter-spacing:-0.2px;">5dayL 1.2617</div>
<div class="t" style="left:6px;top:682px;letter-spacing:-0.19px;">TRIX index | Period: 13, Signal Period: 8 |  -0.0000 -0.0000 -0.0000 -0.0000</div>
<div class="t" style="left:2236.5px;top:19px;letter-spacing:-0.15px;">1.26980</div>
<div class="t" style="left:2236.5px;top:57px;letter-spacing:-0.15px;">1.26945</div>
<div class="t" style="left:2236.5px;top:95px;letter-spacing:-0.15px;">1.26910</div>
<div class="t" style="left:2236.5px;top:133px;letter-spacing:-0.15px;">1.26875</div>
<div class="t" style="left:2236.5px;top:171px;letter-spacing:-0.15px;">1.26840</div>
<div class="t" style="left:2236.5px;top:209px;letter-spacing:-0.15px;">1.26805</div>
<div class="t" style="left:2236.5px;top:247px;letter-spacing:-0.15px;">1.26770</div>
<div class="t" style="left:2236.5px;top:285px;letter-spacing:-0.15px;">1.26735</div>
<div class="t" style="left:2236.5px;top:323px;letter-spacing:-0.15px;">1.26700</div>
<div class="t" style="left:2236.5px;top:361px;letter-spacing:-0.15px;">1.26665</div>
<div class="t" style="left:2236.5px;top:399px;letter-spacing:-0.15px;">1.26630</div>
<div class="t" style="left:2236.5px;top:437px;letter-spacing:-0.15px;">1.26595</div>
<div class="t" style="left:2236.5px;top:475px;letter-spacing:-0.15px;">1.26560</div>
<div class="t" style="left:2236.5px;top:513px;letter-spacing:-0.15px;">1.26525</div>
<div class="t" style="left:2236.5px;top:551px;letter-spacing:-0.15px;">1.26490</div>
<div class="t" style="left:2236.5px;top:589px;letter-spacing:-0.15px;">1.26455</div>
<div class="t" style="left:2236.5px;top:627px;letter-spacing:-0.15px;">1.26420</div>
<div class="t" style="left:2236.5px;top:665px;letter-spacing:-0.15px;">1.26385</div>
<div class="t" style="left:2236.5px;top:408px;letter-spacing:-0.15px;color:#fff;">1.26622</div>
<div class="t" style="left:2235px;top:680px;letter-spacing:-0.2px;">0.0002</div>
<div class="t" style="left:2235px;top:809px;">0.00</div>
<div class="t" style="left:2235px;top:915px;letter-spacing:-0.2px;">-0.0002</div>
<div class="t" style="left:-1px;top:931px;letter-spacing:-0.22px;">3 Dec 2024</div>
<div class="t" style="left:64px;top:931px;letter-spacing:-0.22px;">3 Dec 03:40</div>
<div class="t" style="left:128px;top:931px;letter-spacing:-0.22px;">3 Dec 04:00</div>
<div class="t" style="left:192px;top:931px;letter-spacing:-0.22px;">3 Dec 04:20</div>
<div class="t" style="left:256px;top:931px;letter-spacing:-0.22px;">3 Dec 04:40</div>
<div class="t" style="left:320px;top:931px;letter-spacing:-0.22px;">3 Dec 05:00</div>
<div class="t" style="left:384px;top:931px;letter-spacing:-0.22px;">3 Dec 05:20</div>
<div class="t" style="left:448px;top:931px;letter-spacing:-0.22px;">3 Dec 05:40</div>
<div class="t" style="left:512px;top:931px;letter-spacing:-0.22px;">3 Dec 06:00</div>
<div class="t" style="left:576px;top:931px;letter-spacing:-0.22px;">3 Dec 06:20</div>
<div class="t" style="left:640px;top:931px;letter-spacing:-0.22px;">3 Dec 06:40</div>
<div class="t" style="left:704px;top:931px;letter-spacing:-0.22px;">3 Dec 07:00</div>
<div class="t" style="left:768px;top:931px;letter-spacing:-0.22px;">3 Dec 07:20</div>
<div class="t" style="left:832px;top:931px;letter-spacing:-0.22px;">3 Dec 07:40</div>
<div class="t" style="left:896px;top:931px;letter-spacing:-0.22px;">3 Dec 08:00</div>
<div class="t" style="left:960px;top:931px;letter-spacing:-0.22px;">3 Dec 08:20</div>
<div class="t" style="left:1024px;top:931px;letter-spacing:-0.22px;">3 Dec 08:40</div>
<div class="t" style="left:1088px;top:931px;letter-spacing:-0.22px;">3 Dec 09:00</div>
<div class="t" style="left:1152px;top:931px;letter-spacing:-0.22px;">3 Dec 09:20</div>
<div class="t" style="left:1216px;top:931px;letter-spacing:-0.22px;">3 Dec 09:40</div>
<div class="t" style="left:1280px;top:931px;letter-spacing:-0.22px;">3 Dec 10:00</div>
<div class="t" style="left:1344px;top:931px;letter-spacing:-0.22px;">3 Dec 10:20</div>
<div class="t" style="left:1408px;top:931px;letter-spacing:-0.22px;">3 Dec 10:40</div>
<div class="t" style="left:1472px;top:931px;letter-spacing:-0.22px;">3 Dec 11:00</div>
<div class="t" style="left:1536px;top:931px;letter-spacing:-0.22px;">3 Dec 11:20</div>
<div class="t" style="left:1600px;top:931px;letter-spacing:-0.22px;">3 Dec 11:40</div>
<div class="t" style="left:1664px;top:931px;letter-spacing:-0.22px;">3 Dec 12:00</div>
<div class="t" style="left:1728px;top:931px;letter-spacing:-0.22px;">3 Dec 12:20</div>
<div class="t" style="left:1792px;top:931px;letter-spacing:-0.22px;">3 Dec 12:40</div>
<div class="t" style="left:1856px;top:931px;letter-spacing:-0.22px;">3 Dec 13:00</div>
<div class="t" style="left:1920px;top:931px;letter-spacing:-0.22px;">3 Dec 13:20</div>
<div class="t" style="left:1984px;top:931px;letter-spacing:-0.22px;">3 Dec 13:40</div>
<div class="t" style="left:2048px;top:931px;letter-spacing:-0.22px;">3 Dec 14:00</div>
<div class="t" style="left:2112px;top:931px;letter-spacing:-0.22px;">3 Dec 14:20</div>
<div class="t" style="left:2176px;top:931px;letter-spacing:-0.22px;">3 Dec 14:40</div>
<div class="wm" style="left:5px;font-weight:normal;transform:scaleX(0.84);-webkit-text-stroke:0.3px #000">@</div>
<div class="wm wb" style="left:28.5px">ForexMT4Indicators.com</div>
</body></html>
